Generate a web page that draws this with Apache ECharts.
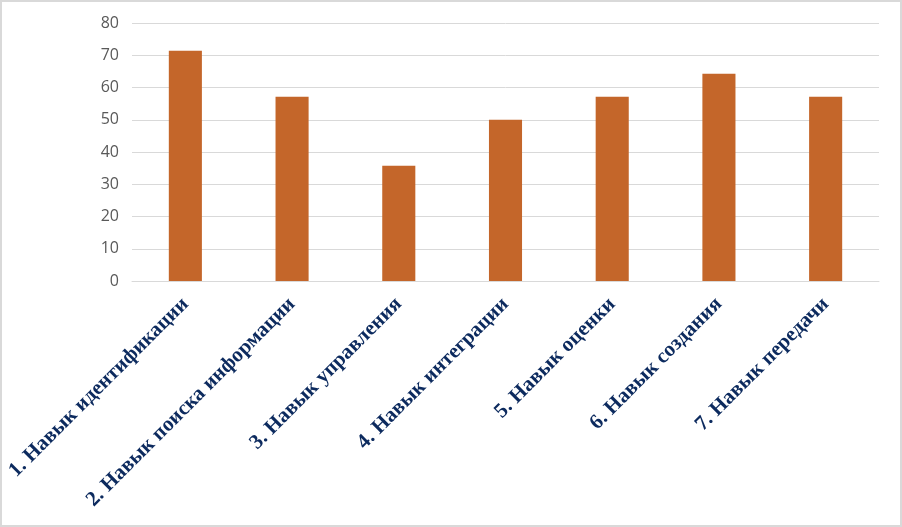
<!DOCTYPE html>
<html>
<head>
<meta charset="utf-8">
<script src="https://cdn.jsdelivr.net/npm/echarts@6/dist/echarts.min.js"></script>
<style>
html,body{margin:0;padding:0;background:#fff;}
#c{width:902px;height:527px;box-sizing:border-box;border:2px solid #d9d9d9;}
</style>
</head>
<body>
<div id="c"></div>
<script>
const categories = [
  '1. Навык идентификации',
  '2. Навык поиска информации',
  '3. Навык управления',
  '4. Навык интеграции',
  '5. Навык оценки',
  '6. Навык создания',
  '7. Навык передачи'
];
const values = [71.4, 57.1, 35.7, 50, 57.1, 64.3, 57.1];
const yTicks = [0, 10, 20, 30, 40, 50, 60, 70, 80];

const chart = echarts.init(document.getElementById('c'), null, {renderer: 'canvas'});
chart.setOption({
  animation: false,
  grid: {left: 130, right: 21, top: 21, bottom: 244, containLabel: false},
  xAxis: {
    type: 'category',
    data: categories,
    axisTick: {show: false},
    axisLine: {lineStyle: {color: '#d9d9d9', width: 1}},
    axisLabel: {
      rotate: 45,
      interval: 0,
      margin: 20,
      color: '#0c2a5e',
      fontFamily: 'Liberation Serif',
      fontWeight: 'bold',
      fontSize: 21
    }
  },
  yAxis: {
    type: 'value',
    min: yTicks[0],
    max: yTicks[yTicks.length - 1],
    interval: 10,
    axisLine: {show: false},
    axisTick: {show: false},
    splitLine: {lineStyle: {color: '#d9d9d9', width: 1}},
    axisLabel: {
      margin: 13,
      color: '#595959',
      fontFamily: 'Open Sans',
      fontSize: 16
    }
  },
  series: [{
    type: 'bar',
    data: values,
    barWidth: '31%',
    itemStyle: {color: '#c4662a'}
  }]
});
</script>
</body>
</html>
